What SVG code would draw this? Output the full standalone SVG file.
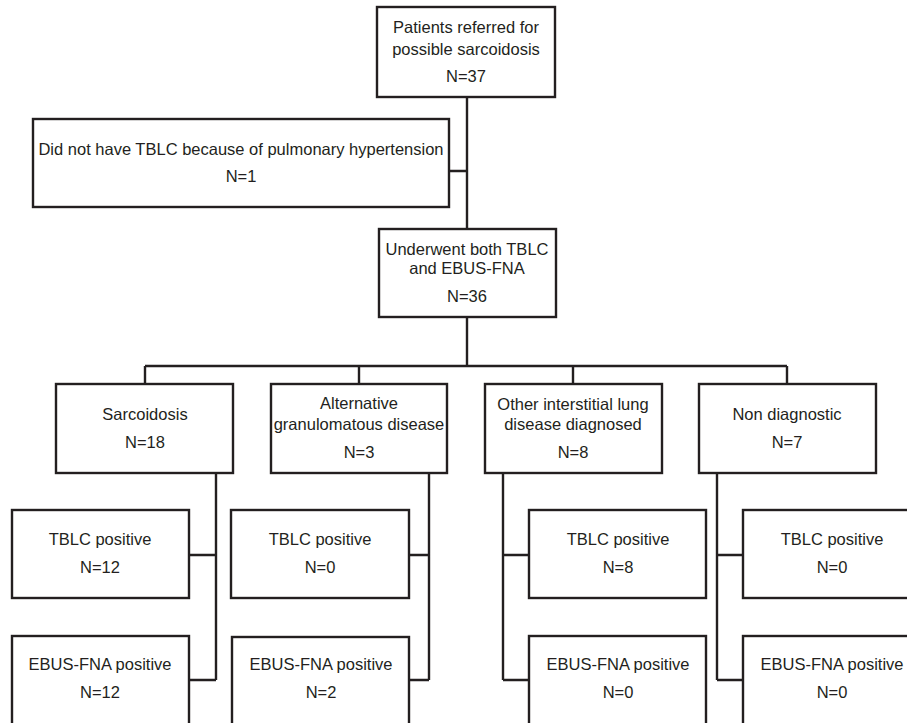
<svg xmlns="http://www.w3.org/2000/svg" width="907" height="723" viewBox="0 0 907 723">
<style>
.box{fill:#fff;stroke:#231f20;stroke-width:2.4}
.ln{fill:none;stroke:#231f20;stroke-width:2.4}
text{font-family:"Liberation Sans",Arial,sans-serif;font-size:16.5px;fill:#231f20;text-anchor:middle}
</style>
<rect width="907" height="723" fill="#fff"/>
<g id="connectors">
<path class="ln" d="M467 97V229M449 171H467"/>
<path class="ln" d="M467 317V366M145 366H787M145 366V384M359 366V384M573 366V384M787 366V384"/>
<path class="ln" d="M216 473V680M189 555H216M189 680H216"/>
<path class="ln" d="M429 473V680M409 555H429M409 680H429"/>
<path class="ln" d="M503 473V680M503 555H529M503 680H529"/>
<path class="ln" d="M717 473V680M717 555H743M717 680H743"/>
</g>
<g id="n_referred"><rect class="box" x="377" y="7" width="178" height="90"/><text x="466" y="33">Patients referred for</text><text x="466" y="55">possible sarcoidosis</text><text x="466" y="82">N=37</text></g>
<g id="n_noTBLC"><rect class="box" x="33" y="119" width="416" height="88"/><text x="241" y="155">Did not have TBLC because of pulmonary hypertension</text><text x="241" y="182">N=1</text></g>
<g id="n_both"><rect class="box" x="379" y="229" width="177" height="88"/><text x="467" y="255">Underwent both TBLC</text><text x="467" y="274">and EBUS-FNA</text><text x="467" y="302">N=36</text></g>
<g id="n_sarc"><rect class="box" x="56" y="384" width="177" height="89"/><text x="145" y="420">Sarcoidosis</text><text x="145" y="448">N=18</text></g>
<g id="n_alt"><rect class="box" x="271" y="384" width="176" height="89"/><text x="359" y="409">Alternative</text><text x="359" y="430">granulomatous disease</text><text x="359" y="458">N=3</text></g>
<g id="n_ild"><rect class="box" x="485" y="384" width="177" height="89"/><text x="573" y="410">Other interstitial lung</text><text x="573" y="430">disease diagnosed</text><text x="573" y="458">N=8</text></g>
<g id="n_nondx"><rect class="box" x="699" y="384" width="177" height="89"/><text x="787" y="420">Non diagnostic</text><text x="787" y="448">N=7</text></g>
<g id="n_sarc_tblc"><rect class="box" x="12" y="510" width="177" height="88"/><text x="100" y="545">TBLC positive</text><text x="100" y="573">N=12</text></g>
<g id="n_sarc_ebus"><rect class="box" x="12" y="636" width="177" height="104"/><text x="100" y="670">EBUS-FNA positive</text><text x="100" y="698">N=12</text></g>
<g id="n_alt_tblc"><rect class="box" x="231" y="510" width="178" height="88"/><text x="320" y="545">TBLC positive</text><text x="320" y="573">N=0</text></g>
<g id="n_alt_ebus"><rect class="box" x="232" y="637" width="177" height="103"/><text x="321" y="670">EBUS-FNA positive</text><text x="321" y="698">N=2</text></g>
<g id="n_ild_tblc"><rect class="box" x="529" y="510" width="177" height="88"/><text x="618" y="545">TBLC positive</text><text x="618" y="573">N=8</text></g>
<g id="n_ild_ebus"><rect class="box" x="529" y="636" width="177" height="104"/><text x="618" y="670">EBUS-FNA positive</text><text x="618" y="698">N=0</text></g>
<g id="n_nondx_tblc"><rect class="box" x="743" y="510" width="177" height="88"/><text x="832" y="545">TBLC positive</text><text x="832" y="573">N=0</text></g>
<g id="n_nondx_ebus"><rect class="box" x="743" y="636" width="177" height="104"/><text x="832" y="670">EBUS-FNA positive</text><text x="832" y="698">N=0</text></g>
</svg>
